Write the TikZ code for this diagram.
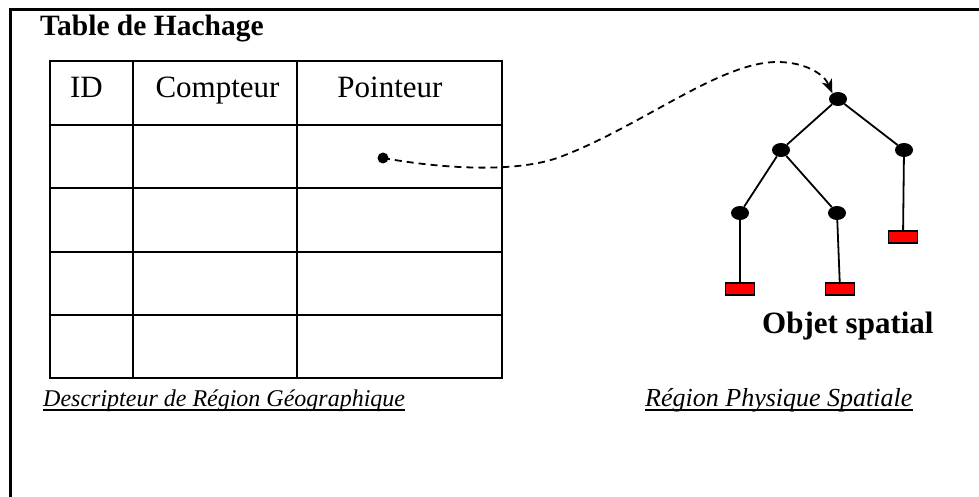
\documentclass[tikz,border=0pt]{standalone}
\usepackage{fontspec}
\setmainfont{Liberation Serif}
\usetikzlibrary{arrows.meta,shapes.geometric}
\begin{document}
\begin{tikzpicture}[x=1pt,y=-1pt,
  frameline/.style={line width=3pt},
  tableline/.style={line width=2.4pt},
  treeline/.style={line width=1.8pt},
  treenode/.style={ellipse,fill=black,minimum width=18pt,minimum height=14pt,inner sep=0pt},
  leafbox/.style={rectangle,fill=red,draw=black,line width=1.4pt,minimum width=29pt,minimum height=12pt,inner sep=0pt},
  celltext/.style={anchor=base,inner sep=0pt,font=\fontsize{31}{33}\selectfont},
  captext/.style={anchor=base west,inner sep=0pt,font=\fontsize{24}{26}\selectfont\itshape},
  uline/.style={line width=2pt}
]
\useasboundingbox (0,0) rectangle (979,497);
% frame
\draw[frameline] (10,497) -- (10,10) -- (979,10);
% title
\node[anchor=base west,inner sep=0pt,font=\fontsize{29.5}{31}\selectfont\bfseries] (title) at (40,36) {Table de Hachage};
% table
\draw[tableline] (50,61) rectangle (502,378);
\foreach \x in {133,297} \draw[tableline] (\x,61) -- (\x,378);
\foreach \y in {125,188,252,315} \draw[tableline] (50,\y) -- (502,\y);
\node[celltext] (hid) at (86.5,98) {ID};
\node[celltext] (hcpt) at (217.5,98) {Compteur};
\node[celltext] (hptr) at (390,98) {Pointeur};
% captions
\node[captext] (desc) at (43,406) {Descripteur de Région Géographique};
\draw[uline] ([yshift=-4pt]desc.base west) -- ([yshift=-4pt]desc.base east);
\node[captext,font=\fontsize{26}{28}\selectfont\itshape] (reg) at (645,406) {Région Physique Spatiale};
\draw[uline] ([yshift=-4pt]reg.base west) -- ([yshift=-4pt]reg.base east);
% tree
\node[treenode] (root) at (838,99) {};
\node[treenode] (lm) at (781,150) {};
\node[treenode] (rm) at (904,150) {};
\node[treenode] (ll) at (740,213) {};
\node[treenode] (lr) at (837,213) {};
\node[leafbox] (bll) at (740,289) {};
\node[leafbox] (blr) at (840,289) {};
\node[leafbox] (brm) at (903,237) {};
\draw[treeline] (root) -- (lm);
\draw[treeline] (root) -- (rm);
\draw[treeline] (lm) -- (ll);
\draw[treeline] (lm) -- (lr);
\draw[treeline] (ll) -- (bll);
\draw[treeline] (lr) -- (blr);
\draw[treeline] (rm) -- (brm);
\node[anchor=base west,inner sep=0pt,font=\fontsize{31}{33}\selectfont\bfseries] (obj) at (762,333) {Objet spatial};
% pointer
\node[circle,fill=black,minimum size=11pt,inner sep=0pt] (dot) at (383,158) {};
\coordinate (mid) at (560,157);
\coordinate (peak) at (777,62);
\draw[line width=1.8pt,dash pattern=on 7pt off 5pt,-{Stealth[length=14pt,width=11pt,inset=4pt]}]
  (dot.center) .. controls (450,170) and (520,172) .. (mid)
  .. controls (640,127) and (720,62) .. (peak)
  .. controls (805,62) and (824,74) .. (root.135);
\end{tikzpicture}
\end{document}
